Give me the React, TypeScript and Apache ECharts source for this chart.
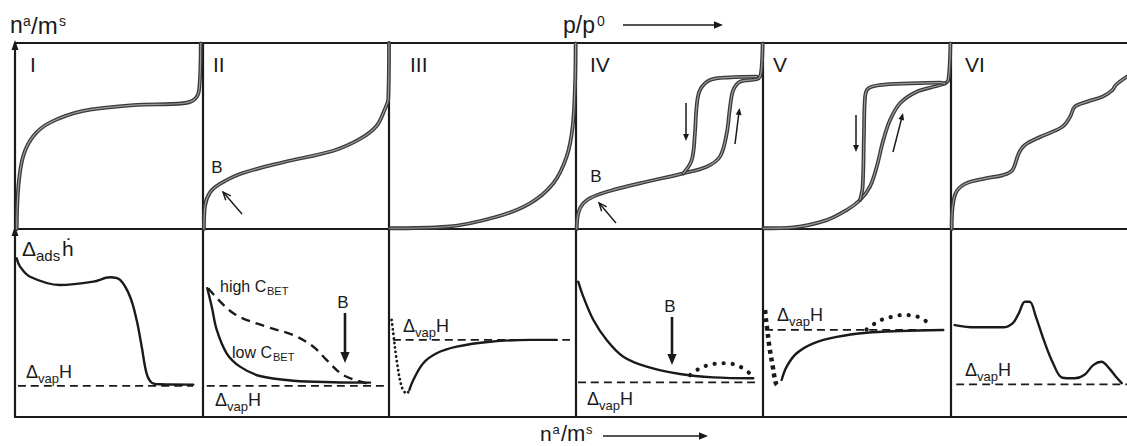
import React, { useEffect, useRef } from "react";
import * as echarts from "echarts";

// ---------- data (panel-relative percentages: x = 0..100 across, y = 0..100 up) ----------
const romanLabels = ["I", "II", "III", "IV", "V", "VI"];

// top row: isotherms n^a/m^s vs p/p0
const iso1 = [[0.9, 0], [1.8, 23], [4.4, 39.3], [9.8, 50], [18.6, 57.2], [36.3, 63.5], [62.9, 66.6], [89.5, 67.6], [95.7, 69.9], [98, 75.3], [98.8, 99.8]];
const iso2 = [[0.5, 0], [1.1, 12.5], [3.8, 19.7], [9.1, 24.2], [19.9, 29.6], [43.2, 35.9], [70.1, 42.1], [84.4, 48.4], [93.4, 55.5], [97.8, 64.5], [99.6, 69.9], [100, 100]];
const iso3 = [[0.5, 0.4], [30.8, 1.2], [57.6, 6.6], [75.4, 13.8], [87.9, 24.6], [95, 38.9], [98.2, 55], [99.5, 78.3], [99.8, 99.8]];
const iso4Ads = [[0.4, 0], [1.2, 8.4], [3.9, 13.8], [9.2, 17.4], [19.9, 21], [37.8, 25.4], [57.4, 29.9], [69.9, 33.5], [77, 38.9], [80.6, 51.4], [82.4, 65.8], [84.1, 74.7], [87.7, 79.2], [96.6, 80.5], [98.4, 81.9], [99.3, 87.3], [99.8, 99.8]];
const iso4Des = [[57.4, 29.9], [61.9, 37.1], [63.6, 51.4], [64.5, 65.8], [66.3, 74.7], [71.7, 80.1], [82.4, 81.5], [96.6, 81.9]];
const iso5Ads = [[0.2, 0.4], [16.1, 0.9], [33.9, 4.8], [44.5, 10.2], [51.6, 15.6], [56.9, 22.8], [60.5, 33.5], [64, 47.8], [67.6, 58.6], [72.9, 67.6], [81.8, 73.8], [92.4, 76.9], [96.8, 78.3], [98.6, 80.1], [99.7, 99.8]];
const iso5Des = [[51.6, 15.6], [53, 22.8], [53.7, 51.4], [54.3, 71.1], [56, 75.6], [62.2, 77.4], [78.2, 78.3], [94.1, 78.7], [96.8, 78.3]];
const iso6 = [[0.4, 0], [0.9, 11.8], [3, 19.9], [8.3, 24.4], [19, 27.1], [29.6, 29], [34.9, 31.7], [38.5, 40.7], [42, 45.2], [50.9, 49.6], [63.3, 55], [67.7, 60.4], [70.4, 65.8], [77.5, 68.5], [86.3, 71.2], [91.7, 74.7], [93.6, 77.4], [100, 82]];

// bottom row: differential enthalpy of adsorption vs n^a/m^s
const heat1 = [[0.9, 84.4], [2.7, 80], [8, 74.6], [23.9, 70.2], [41.7, 72], [50.5, 74.3], [55.9, 72.9], [61.2, 64], [64.7, 51.6], [67.4, 37.4], [70, 23.2], [72.7, 18.3], [77.1, 17.4], [94.8, 17.2]];
const heat2High = [[2.8, 68.5], [16.3, 55.2], [34.2, 48], [48.5, 43.6], [59.3, 37.4], [66.5, 30.3], [75.4, 22.3], [88, 17.9]];
const heat2Low = [[2.3, 68.5], [4.7, 58.7], [7.4, 46.3], [12.7, 33.9], [19.9, 26.8], [30.6, 21.8], [48.6, 19.3], [70.1, 18.5], [89.8, 18.3]];
const heat3Dot = [[1.4, 51.6], [2.3, 44.5], [4.1, 30.3], [6.8, 16.1], [9.5, 12.5], [10.9, 14.4]];
const heat3 = [[10.9, 14.4], [13, 19.7], [18.3, 28.6], [25.5, 33.9], [36.2, 37.4], [54, 40], [75.4, 41], [89.7, 41]];
const heat4 = [[1.2, 72], [3.9, 64], [9.3, 51.6], [16.4, 41], [25.3, 32.1], [37.8, 26.8], [55.6, 22.9], [73.4, 21.1], [94.8, 20.6]];
const heat4Dot = [[61, 22.3], [66.3, 25.9], [73.4, 28.2], [80.6, 28.6], [87.7, 26.8], [94, 22.3]];
const heat5Dot = [[1.1, 56.9], [1.6, 51.6], [2.3, 46.3], [3.4, 37.4], [5.2, 26.8], [6.9, 17.9], [8.7, 16.1]];
const heat5 = [[9.9, 19.7], [12.6, 26.8], [17.9, 33.9], [26.8, 39.2], [39.2, 42.6], [55.1, 44.8], [72.9, 45.7], [95.9, 46.3]];
const heat5Bump = [[55.1, 46.6], [59.6, 49.8], [64, 52.1], [69.3, 53.4], [74.6, 54.3], [79.9, 53.9], [84.4, 52.5], [88.5, 49.5]];
const heat6 = [[2.1, 48.9], [13.7, 47.7], [29.6, 47.7], [35, 49.8], [38.5, 55.1], [42, 61.3], [44.7, 61.3], [48.2, 53.4], [52.7, 41], [58, 28.6], [63.3, 20.9], [70.4, 20.6], [75.7, 22.3], [81, 27.7], [85.5, 29.4], [89.9, 25.9], [93.6, 21.5], [97, 18]];

// enthalpy of vaporisation level in each bottom panel
const vapLevel = [16.6, 16.6, 41, 18.4, 46.3, 17.4];
const vapStart = [1.6, 2, 2.1, 1.1, 1.1, 3];
const vapEnd = [94.7, 97.8, 98.4, 95.7, 96.8, 100];

// ---------- layout ----------
const colLeft = [15, 203, 389, 576, 763, 951];
const colWidth = [188, 186, 187, 187, 188, 188];
const rowTop = [43, 229];
const rowHeight = [186, 188];
const FONT = '"Liberation Sans", Arial, Helvetica, sans-serif';
const INK = "#1a1a1a";

function txt(x: number, y: number, text: string, size: number, align = "left"): any {
  return {
    type: "text",
    x,
    y,
    silent: true,
    style: {
      text,
      fontSize: size,
      fontFamily: FONT,
      fill: INK,
      align,
      verticalAlign: "middle",
      textAlign: align,
      textVerticalAlign: "middle",
    },
  };
}

function vapLabel(x: number, y: number): any[] {
  return [txt(x, y, "Δ", 18), txt(x + 12, y + 6, "vap", 13), txt(x + 33, y, "H", 18)];
}

function arrow(x1: number, y1: number, x2: number, y2: number, lw: number, head: number, filled: boolean): any[] {
  const dx = x2 - x1;
  const dy = y2 - y1;
  const len = Math.hypot(dx, dy);
  const ux = dx / len;
  const uy = dy / len;
  const bx = x2 - ux * head;
  const by = y2 - uy * head;
  const px = -uy * head * 0.42;
  const py = ux * head * 0.42;
  const lineEnd = filled ? [bx + ux * 1, by + uy * 1] : [x2, y2];
  const els: any[] = [
    {
      type: "line",
      silent: true,
      shape: { x1, y1, x2: lineEnd[0], y2: lineEnd[1] },
      style: { stroke: INK, lineWidth: lw },
    },
  ];
  if (filled) {
    els.push({
      type: "polygon",
      silent: true,
      shape: { points: [[x2, y2], [bx + px, by + py], [bx - px, by - py]] },
      style: { fill: INK },
    });
  } else {
    els.push({
      type: "polyline",
      silent: true,
      shape: { points: [[bx + px, by + py], [x2, y2], [bx - px, by - py]] },
      style: { stroke: INK, lineWidth: lw, fill: null },
    });
  }
  return els;
}

export default function App() {
  const ref = useRef<HTMLDivElement>(null);

  useEffect(() => {
    document.body.style.margin = "0";
    if (!ref.current) return;
    const chart = echarts.init(ref.current, null, { renderer: "svg" });

    const grids: any[] = [];
    const xAxes: any[] = [];
    const yAxes: any[] = [];
    for (let r = 0; r < 2; r++) {
      for (let c = 0; c < 6; c++) {
        const i = r * 6 + c;
        grids.push({ left: colLeft[c], top: rowTop[r], width: colWidth[c], height: rowHeight[r], show: false, containLabel: false });
        xAxes.push({ type: "value", gridIndex: i, min: 0, max: 100, show: false });
        yAxes.push({ type: "value", gridIndex: i, min: 0, max: 100, show: false });
      }
    }

    const series: any[] = [];
    const isoCurve = (panel: number, data: number[][]) => {
      series.push({
        type: "line", xAxisIndex: panel, yAxisIndex: panel, data, showSymbol: false, smooth: 0.35, silent: true,
        lineStyle: { color: "#3a3a3a", width: 3.8, cap: "round", join: "round" },
      });
      series.push({
        type: "line", xAxisIndex: panel, yAxisIndex: panel, data, showSymbol: false, smooth: 0.35, silent: true,
        lineStyle: { color: "#9c9c9c", width: 1.2, cap: "round", join: "round" },
      });
    };
    isoCurve(0, iso1);
    isoCurve(1, iso2);
    isoCurve(2, iso3);
    isoCurve(3, iso4Ads);
    isoCurve(3, iso4Des);
    isoCurve(4, iso5Ads);
    isoCurve(4, iso5Des);
    isoCurve(5, iso6);

    const heatCurve = (panel: number, data: number[][], style: any) => {
      series.push({
        type: "line", xAxisIndex: panel, yAxisIndex: panel, data, showSymbol: false, smooth: 0.35, silent: true,
        lineStyle: Object.assign({ color: INK, width: 2.4, cap: "round", join: "round" }, style),
      });
    };
    for (let c = 0; c < 6; c++) {
      heatCurve(6 + c, [[vapStart[c], vapLevel[c]], [vapEnd[c], vapLevel[c]]], { type: [8, 5], width: 1.8, cap: "butt" });
    }
    heatCurve(6, heat1, {});
    heatCurve(7, heat2Low, {});
    heatCurve(7, heat2High, { type: [9, 6], width: 2.4, cap: "butt" });
    heatCurve(8, heat3Dot, { type: [0.1, 4.5], width: 2.8, cap: "round" });
    heatCurve(8, heat3, {});
    heatCurve(9, heat4, {});
    heatCurve(9, heat4Dot, { type: [0.1, 9], width: 4.2, cap: "round" });
    heatCurve(10, heat5Dot, { type: [4, 4], width: 4.5, cap: "butt" });
    heatCurve(10, heat5, {});
    heatCurve(10, heat5Bump, { type: [0.1, 9], width: 4.2, cap: "round" });
    heatCurve(11, heat6, {});

    const g: any[] = [];
    // frame
    const frameY = [43, 229, 417];
    frameY.forEach((y) =>
      g.push({ type: "line", silent: true, shape: { x1: 14, y1: y, x2: 1127, y2: y }, style: { stroke: INK, lineWidth: 2.2 } })
    );
    colLeft.forEach((x) =>
      g.push({ type: "line", silent: true, shape: { x1: x, y1: 43, x2: x, y2: 417 }, style: { stroke: INK, lineWidth: 2.2 } })
    );
    // y-axis arrowheads on left border
    [43, 229].forEach((y) =>
      g.push({ type: "polygon", silent: true, shape: { points: [[15, y - 3], [11.5, y + 7], [18.5, y + 7]] }, style: { fill: INK } })
    );

    // panel numerals
    const romanX = [30, 213, 410, 590, 773, 965];
    romanLabels.forEach((t, i) => g.push(txt(romanX[i], 64, t, 21)));

    // axis titles
    g.push(txt(10, 25, "n", 23), txt(23, 20.5, "a", 14), txt(31, 25, "/m", 24), txt(59, 20.5, "s", 14));
    g.push(txt(563, 25, "p/p", 23), txt(597, 20.5, "0", 14));
    g.push(...arrow(623, 25, 723, 25, 1.4, 9, true));
    g.push(txt(540, 433, "n", 21), txt(552.5, 429, "a", 13), txt(561, 433, "/m", 22), txt(586, 429, "s", 13));
    g.push(...arrow(603, 436, 708, 436, 1.4, 9, true));

    // top row annotations
    g.push(txt(217, 167, "B", 17, "center"));
    g.push(...arrow(242, 214, 223, 192, 1.4, 8, false));
    g.push(txt(596, 176, "B", 17, "center"));
    g.push(...arrow(616, 223, 599, 203, 1.4, 8, false));
    g.push(...arrow(686, 103, 686, 141, 1.5, 7, true));
    g.push(...arrow(735, 144, 739.5, 108, 1.5, 7, true));
    g.push(...arrow(856, 115, 856, 152, 1.5, 7, true));
    g.push(...arrow(893, 152, 903, 113, 1.5, 7, true));

    // bottom row annotations
    g.push(txt(22, 248, "Δ", 21), txt(36, 255, "ads", 15), txt(62, 248, "ḣ", 21));
    g.push(...vapLabel(26, 372));
    g.push(txt(220, 286, "high C", 16), txt(267, 291, "BET", 11));
    g.push(txt(232, 352, "low C", 16), txt(273, 357, "BET", 11));
    g.push(txt(343, 302, "B", 17, "center"));
    g.push(...arrow(345, 313, 345, 363, 2.6, 11, true));
    g.push(...vapLabel(215, 400));
    g.push(...vapLabel(403, 326));
    g.push(txt(670, 306, "B", 17, "center"));
    g.push(...arrow(672, 317, 672, 365, 2.6, 11, true));
    g.push(...vapLabel(587, 399));
    g.push(...vapLabel(777, 315));
    g.push(...vapLabel(965, 370));

    chart.setOption({
      animation: false,
      backgroundColor: "#ffffff",
      grid: grids,
      xAxis: xAxes,
      yAxis: yAxes,
      series,
      graphic: g,
    });
    return () => chart.dispose();
  }, []);

  return <div ref={ref} style={{ width: 1127, height: 446 }} />;
}
